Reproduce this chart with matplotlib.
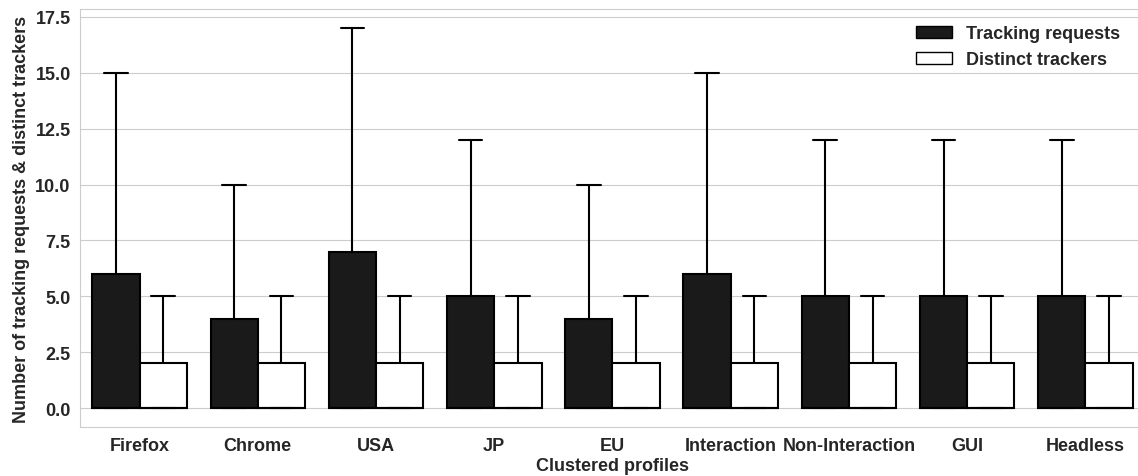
import matplotlib
matplotlib.use("Agg")
import matplotlib.pyplot as plt
import seaborn as sns
from matplotlib.patches import Patch

profiles = ["Firefox", "Chrome", "USA", "JP", "EU", "Interaction",
            "Non-Interaction", "GUI", "Headless"]
# upper quartile and upper whisker per profile (lower quartile, median and lower whisker are 0)
requests_q3 = [6, 4, 7, 5, 4, 6, 5, 5, 5]
requests_whi = [15, 10, 17, 12, 10, 15, 12, 12, 12]
trackers_q3 = [2, 2, 2, 2, 2, 2, 2, 2, 2]
trackers_whi = [5, 5, 5, 5, 5, 5, 5, 5, 5]
series = ["Tracking requests", "Distinct trackers"]
fills = ["#1a1a1a", "#ffffff"]

sns.set_style("whitegrid")
plt.rcParams["font.family"] = ["Liberation Sans", "DejaVu Sans"]
plt.rcParams["font.weight"] = "bold"

fig = plt.figure(figsize=(11.38, 4.77), dpi=100)
ax = fig.add_axes([0.0707, 0.1027, 0.935, 0.876])

def make_stats(q3s, whis):
    return [dict(med=0, q1=0, q3=q, whislo=0, whishi=w, fliers=[])
            for q, w in zip(q3s, whis)]

groups = [(requests_q3, requests_whi), (trackers_q3, trackers_whi)]
for k, (q3s, whis) in enumerate(groups):
    pos = [i + (k - 0.5) * 0.4 for i in range(len(profiles))]
    ax.bxp(make_stats(q3s, whis), positions=pos, widths=0.4,
           patch_artist=True, showfliers=False,
           boxprops=dict(facecolor=fills[k], edgecolor="black", linewidth=1.5),
           whiskerprops=dict(color="black", linewidth=1.5),
           capprops=dict(color="black", linewidth=1.5),
           medianprops=dict(color="black", linewidth=1.5),
           capwidths=0.2, manage_ticks=False)

ax.set_xlim(-0.5, len(profiles) - 0.5)
ax.set_ylim(-0.85, 17.85)
ax.set_xticks(range(len(profiles)))
ax.set_xticklabels(profiles)
ax.set_yticks([0, 2.5, 5, 7.5, 10, 12.5, 15, 17.5])
ax.set_yticklabels(["0.0", "2.5", "5.0", "7.5", "10.0", "12.5", "15.0", "17.5"])
ax.xaxis.grid(False)
ax.tick_params(labelsize=13, colors="#262626")
for lab in ax.get_xticklabels() + ax.get_yticklabels():
    lab.set_fontweight("bold")
ax.set_xlabel("Clustered profiles", fontsize=13, fontweight="bold",
              color="#262626", labelpad=2)
ax.set_ylabel("Number of tracking requests & distinct trackers", fontsize=13,
              fontweight="bold", color="#262626")

handles = [Patch(facecolor=fills[k], edgecolor="black", linewidth=1)
           for k in range(2)]
leg = ax.legend(handles, series, loc="upper right", frameon=False,
                prop=dict(size=13, weight="bold"),
                bbox_to_anchor=(0.9925, 1.0))
for t in leg.get_texts():
    t.set_color("#262626")

fig.savefig("out.png", dpi=100)
